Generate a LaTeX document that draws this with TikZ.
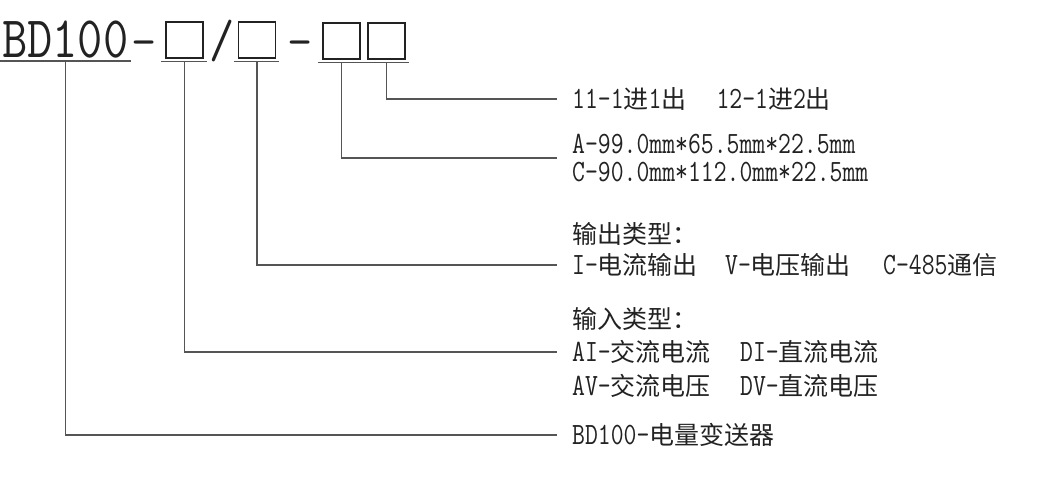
\documentclass[tikz,border=0pt]{standalone}
\usepackage{fontspec}
\usepackage{graphicx}
\newfontfamily\cjk{Noto Sans CJK SC}
\newcommand{\zh}[1]{{\cjk #1}}
\newcommand{\en}[1]{\scalebox{1}[1.24]{#1}}
\definecolor{inkgray}{HTML}{222222}
\definecolor{linegray}{HTML}{555555}
\tikzset{
  codefont/.style={font=\fontsize{49}{49}\selectfont\ttfamily, text=inkgray, inner sep=0pt},
  codebox/.style={draw=inkgray, line width=1.2pt, minimum width=37pt, minimum height=36pt, inner sep=0pt},
  uline/.style={draw=linegray, line width=1.5pt},
  leader/.style={draw=linegray, line width=1.3pt},
  desc/.style={font=\fontsize{25}{26}\selectfont\ttfamily, text=inkgray, anchor=west,
    inner xsep=15pt, inner ysep=0pt, align=left},
}

\begin{document}
\begin{tikzpicture}[x=1pt, y=-1pt]
    \useasboundingbox (0,0) rectangle (1037,482);
    % model code
    \node[codefont, anchor=base west] (title) at (2,57) {\scalebox{1}[1.2]{BD100}};
    \node[codefont, anchor=base] (dasha) at (144,57) {-};
    \node[codebox] (boxa) at (184.5,40) {};
    \node[codefont, anchor=base] (slash) at (222,57) {\scalebox{1}[1.1]{/}};
    \node[codebox] (boxb) at (257,40) {};
    \node[codefont, anchor=base] (dashb) at (300,57) {-};
    \node[codebox] (boxc) at (341.5,41) {};
    \node[codebox] (boxd) at (386.5,41) {};
    \draw[uline] (0,61) -- (131,61);
    \foreach \b in {boxa,boxb,boxc,boxd}
        \draw[uline] ([xshift=-4pt,yshift=-3pt]\b.south west) -- ([xshift=3pt,yshift=-3pt]\b.south east);
    % descriptions
    \node[desc] (ratio) at (557,99) {\en{11-1}\zh{进}\en{1}\zh{出}\hspace{30pt}\en{12-1}\zh{进}\en{2}\zh{出}};
    \node[desc] (size) at (557,158) {\en{A-99.0mm*65.5mm*22.5mm}\\[1.5pt]\en{C-90.0mm*112.0mm*22.5mm}};
    \node[desc] (outhead) at (557,234) {\zh{输出类型：}};
    \node[desc] (outopt) at (557,265) {\makebox[153pt][l]{\en{I-}\zh{电流输出}}\makebox[158pt][l]{\en{V-}\zh{电压输出}}\en{C-485}\zh{通信}};
    \node[desc] (inhead) at (557,319) {\zh{输入类型：}};
    \node[desc] (inac) at (557,352) {\makebox[168pt][l]{\en{AI-}\zh{交流电流}}\en{DI-}\zh{直流电流}};
    \node[desc] (inav) at (557,386) {\makebox[168pt][l]{\en{AV-}\zh{交流电压}}\en{DV-}\zh{直流电压}};
    \node[desc] (name) at (557,435) {\en{BD100-}\zh{电量变送器}};
    % leaders
    \draw[leader] ([yshift=-3pt]boxd.south) |- (ratio.west);
    \draw[leader] ([yshift=-3pt]boxc.south) |- (size.west);
    \draw[leader] ([yshift=-3pt]boxb.south) |- (outopt.west);
    \draw[leader] ([yshift=-3pt]boxa.south) |- (inac.west);
    \draw[leader] ([yshift=-4pt]title.south) |- (name.west);
\end{tikzpicture}
\end{document}
